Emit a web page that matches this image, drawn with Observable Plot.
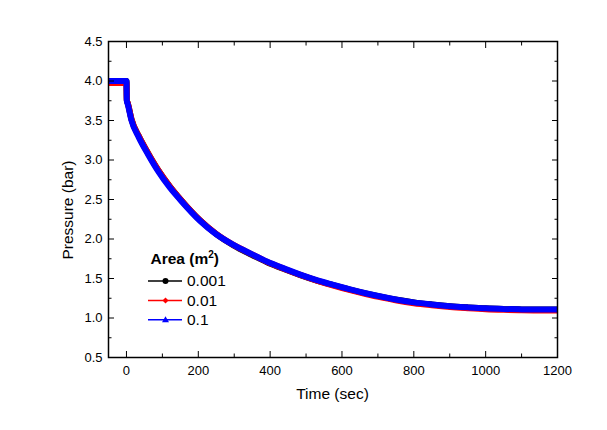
<!DOCTYPE html>
<html>
<head>
<meta charset="utf-8">
<script src="https://cdn.jsdelivr.net/npm/d3@7"></script>
<script src="https://cdn.jsdelivr.net/npm/@observablehq/plot@0.6"></script>
<style>
  html, body { margin: 0; padding: 0; background: #fff; }
  #wrap { position: relative; width: 607px; height: 430px; font-family: "Liberation Sans", Arial, sans-serif; }
  #overlay { position: absolute; left: 0; top: 0; pointer-events: none; }
</style>
</head>
<body>
<div id="wrap"></div>
<script>
// ---- data ----
const time = [-50, -25, 0, 1, 4, 14, 34, 59, 88, 121, 150, 206, 250, 298, 350, 391, 440, 484, 530, 576, 620, 669, 715, 753, 800, 850, 901, 950, 1000, 1050, 1100, 1150, 1200];
const p0001 = [4.0, 4.0, 4.0, 3.76, 3.715, 3.515, 3.305, 3.095, 2.875, 2.665, 2.505, 2.232, 2.062, 1.918, 1.796, 1.706, 1.617, 1.543, 1.474, 1.416, 1.363, 1.309, 1.264, 1.231, 1.198, 1.172, 1.150, 1.135, 1.122, 1.114, 1.109, 1.107, 1.107];
const p001 = [3.975, 3.975, 3.975, 3.76, 3.715, 3.515, 3.305, 3.095, 2.875, 2.665, 2.505, 2.232, 2.065, 1.925, 1.805, 1.712, 1.621, 1.545, 1.474, 1.41, 1.355, 1.30, 1.255, 1.221, 1.187, 1.161, 1.139, 1.124, 1.111, 1.103, 1.098, 1.096, 1.096];
const p01 = [4.0, 4.0, 4.0, 3.75, 3.70, 3.50, 3.29, 3.08, 2.86, 2.65, 2.495, 2.225, 2.06, 1.925, 1.805, 1.715, 1.625, 1.55, 1.48, 1.42, 1.365, 1.31, 1.265, 1.232, 1.198, 1.172, 1.150, 1.135, 1.122, 1.114, 1.109, 1.107, 1.107];
const seriesNames = ["0.001", "0.01", "0.1"];
const seriesColors = ["#000000", "#ff0000", "#0000ff"];
const xMajor = [0, 200, 400, 600, 800, 1000, 1200];
const xMinor = [100, 300, 500, 700, 900, 1100];
const yMajor = [0.5, 1.0, 1.5, 2.0, 2.5, 3.0, 3.5, 4.0, 4.5];
const yMinor = [0.75, 1.25, 1.75, 2.25, 2.75, 3.25, 3.75, 4.25];

const toRows = (arr) => time.map((t, i) => ({t, p: arr[i]}));
const rows = [toRows(p0001), toRows(p001), toRows(p01)];

const M = 6, m = 3.5;
const noText = {text: null, label: null};
const chart = Plot.plot({
  width: 607,
  height: 430,
  marginLeft: 108,
  marginRight: 50,
  marginTop: 41,
  marginBottom: 73,
  x: {domain: [-50, 1200]},
  y: {domain: [0.5, 4.5]},
  style: {fontFamily: '"Liberation Sans", Arial, sans-serif', fontSize: "13px", color: "#000", background: "#fff"},
  marks: [
    ...rows.map((r, i) => Plot.line(r, {x: "t", y: "p", stroke: seriesColors[i], strokeWidth: 6, strokeLinecap: "butt", strokeLinejoin: "miter", curve: "monotone-x", clip: true})),
    // inward ticks on all four sides
    Plot.axisX({anchor: "bottom", ticks: xMajor, tickSize: M, dy: -M, ...noText}),
    Plot.axisX({anchor: "bottom", ticks: xMinor, tickSize: m, dy: -m, ...noText}),
    Plot.axisX({anchor: "top", ticks: xMajor, tickSize: M, dy: M, ...noText}),
    Plot.axisX({anchor: "top", ticks: xMinor, tickSize: m, dy: m, ...noText}),
    Plot.axisY({anchor: "left", ticks: yMajor, tickSize: M, dx: M, ...noText}),
    Plot.axisY({anchor: "left", ticks: yMinor, tickSize: m, dx: m, ...noText}),
    Plot.axisY({anchor: "right", ticks: yMajor, tickSize: M, dx: -M, ...noText}),
    Plot.axisY({anchor: "right", ticks: yMinor, tickSize: m, dx: -m, ...noText}),
    // tick labels
    Plot.axisX({anchor: "bottom", ticks: xMajor, tickSize: 0, tickPadding: 8, tickFormat: d3.format("d"), label: null, fill: "#000", fontSize: 13}),
    Plot.axisY({anchor: "left", ticks: yMajor, tickSize: 0, tickPadding: 6, tickFormat: d3.format(".1f"), label: null, fill: "#000", fontSize: 13}),
    Plot.frame({stroke: "#000", strokeWidth: 1.5})
  ]
});
const wrap = document.getElementById("wrap");
wrap.appendChild(chart);

// overlay: axis titles and legend
const ov = d3.select(wrap).append("svg")
  .attr("id", "overlay").attr("width", 607).attr("height", 430)
  .style("font-family", '"Liberation Sans", Arial, sans-serif');

ov.append("text").attr("x", 332.5).attr("y", 399).attr("text-anchor", "middle")
  .attr("font-size", 15.5).attr("fill", "#000").text("Time (sec)");
ov.append("text").attr("transform", "translate(73,210) rotate(-90)").attr("text-anchor", "middle")
  .attr("font-size", 15.5).attr("fill", "#000").text("Pressure (bar)");

const lg = ov.append("g");
const title = lg.append("text").attr("x", 150.5).attr("y", 264).attr("font-size", 15.5).attr("font-weight", "bold").attr("fill", "#000");
title.append("tspan").text("Area (m");
title.append("tspan").attr("dy", -6).attr("font-size", 10).text("2");
title.append("tspan").attr("dy", 6).text(")");

const rowY = [281, 300.5, 319.8];
seriesNames.forEach((name, i) => {
  const y = rowY[i], c = seriesColors[i];
  lg.append("line").attr("x1", 148).attr("x2", 182).attr("y1", y).attr("y2", y).attr("stroke", c).attr("stroke-width", 1.5);
  if (i === 0) lg.append("circle").attr("cx", 165.5).attr("cy", y).attr("r", 3).attr("fill", c);
  else if (i === 1) lg.append("path").attr("d", `M165.5,${y-3}L168.5,${y}L165.5,${y+3}L162.5,${y}Z`).attr("fill", c);
  else lg.append("path").attr("d", `M165.5,${y-3.5}L169,${y+2.5}L162,${y+2.5}Z`).attr("fill", c);
  lg.append("text").attr("x", 187).attr("y", y + 5).attr("font-size", 15.5).attr("fill", "#000").text(name);
});
</script>
</body>
</html>
